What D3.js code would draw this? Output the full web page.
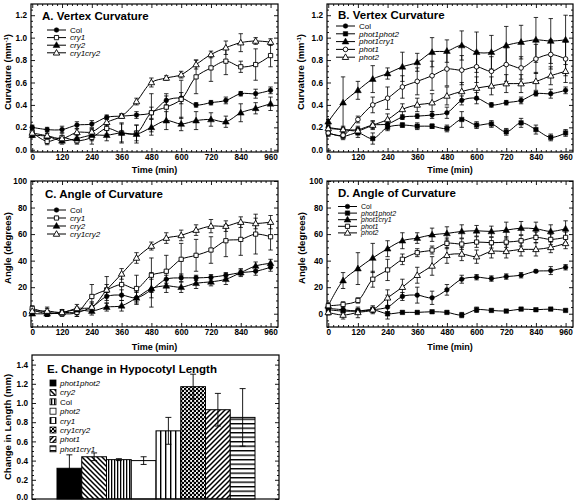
<!DOCTYPE html>
<html><head><meta charset="utf-8">
<script src="https://cdn.jsdelivr.net/npm/d3@7"></script>
<style>
body{margin:0;background:#fff}
svg{display:block}
text{font-family:"Liberation Sans",Arial,Helvetica,sans-serif;fill:#000}
</style>
</head><body>
<svg id="chart" width="576" height="504"></svg>
<script>
// ---------------- DATA ----------------
const times = [0,60,120,180,240,300,360,420,480,540,600,660,720,780,840,900,960];
const xTickLabels = [0,120,240,360,480,600,720,840,960];
const curvTicks = [0,0.2,0.4,0.6,0.8,1,1.2];
const angleTicks = [0,20,40,60,80,100];
const lengthTicks = [0,0.2,0.4,0.6,0.8,1,1.2,1.4];

// Panel A/B vertex curvature (mm^-1)
const colCurv      = [0.20,0.18,0.18,0.22,0.23,0.29,0.30,0.31,0.33,0.44,0.46,0.40,0.42,0.44,0.50,0.50,0.53];
const colCurvErr   = [0.02,0.02,0.03,0.03,0.03,0.02,0.02,0.03,0.05,0.04,0.05,0.02,0.02,0.03,0.02,0.04,0.03];
const cry1Curv     = [0.155,0.075,0.11,0.08,0.11,0.19,0.15,0.15,0.33,0.38,0.45,0.65,0.73,0.79,0.74,0.76,0.84];
const cry1CurvErr  = [0.03,0.03,0.04,0.03,0.06,0.05,0.08,0.07,0.17,0.12,0.17,0.15,0.12,0.12,0.05,0.14,0.10];
const cry2Curv     = [0.13,0.12,0.08,0.10,0.13,0.13,0.15,0.14,0.20,0.26,0.23,0.26,0.27,0.25,0.33,0.37,0.41];
const cry2CurvErr  = [0.02,0.04,0.03,0.04,0.05,0.05,0.09,0.08,0.07,0.08,0.06,0.08,0.06,0.05,0.08,0.05,0.06];
const cry1cry2Curv    = [0.15,0.125,0.10,0.155,0.16,0.245,0.30,0.43,0.60,0.64,0.67,0.76,0.85,0.91,0.955,0.97,0.96];
const cry1cry2CurvErr = [0.02,0.02,0.02,0.03,0.03,0.03,0.02,0.03,0.04,0.02,0.03,0.04,0.03,0.06,0.08,0.03,0.03];
const phot1phot2Curv    = [0.15,0.12,0.15,0.10,0.20,0.22,0.21,0.21,0.19,0.27,0.22,0.23,0.16,0.24,0.18,0.11,0.15];
const phot1phot2CurvErr = [0.03,0.03,0.04,0.05,0.03,0.02,0.03,0.02,0.03,0.07,0.03,0.03,0.03,0.04,0.04,0.03,0.03];
const phot1cry1Curv    = [0.25,0.42,0.53,0.63,0.68,0.74,0.78,0.87,0.88,0.93,0.87,0.87,0.93,0.96,0.98,0.97,0.98];
const phot1cry1CurvErr = [0.02,0.23,0.08,0.12,0.05,0.13,0.08,0.13,0.10,0.13,0.18,0.15,0.17,0.15,0.20,0.20,0.22];
const phot1Curv    = [0.15,0.13,0.27,0.40,0.46,0.56,0.61,0.66,0.72,0.71,0.74,0.70,0.76,0.73,0.81,0.85,0.81];
const phot1CurvErr = [0.02,0.02,0.03,0.07,0.10,0.10,0.12,0.13,0.15,0.13,0.14,0.13,0.15,0.10,0.13,0.13,0.15];
const phot2Curv    = [0.19,0.18,0.17,0.22,0.27,0.36,0.40,0.42,0.48,0.52,0.55,0.57,0.59,0.59,0.61,0.66,0.70];
const phot2CurvErr = [0.03,0.03,0.03,0.04,0.05,0.05,0.06,0.08,0.08,0.08,0.10,0.08,0.08,0.08,0.08,0.08,0.10];

// Panel C/D angle of curvature (degrees)
const colAngle      = [3,0,1,1,5,13,14,12,18,26,27,27,27.5,29,31,32,35];
const colAngleErr   = [2,2,2,3,3,3,4,4,13,3,3,2,2,2,2,3,3];
const cry1Angle     = [4,1,0,1,13,18,22,19,29,32,41,44,48,55,56,60,58];
const cry1AngleErr  = [2,3,2,3,9,10,8,10,13,12,12,12,10,12,12,15,10];
const cry2Angle     = [0,0,1,3,2,5,6,12,19,21,20,23,24,26,31,36,38];
const cry2AngleErr  = [1,2,2,2,3,3,4,5,7,5,4,4,3,4,3,3,3];
const cry1cry2Angle    = [2,2,1,4,5,18,30,42,51,57,59,63,66,66,69,68,69];
const cry1cry2AngleErr = [2,3,2,3,4,4,4,4,3,4,4,4,5,4,4,4,5];
const colAngleD      = [4,3,2,3,5,13,14,12,18,26,27.5,26.5,28,29,32,32.5,35];
const colAngleDErr   = [2,2,2,2,9,3,6,5,4,3,2,2,2,2,1,3,2];
const phot1phot2Angle    = [3,2,2,3,0,1,1,1.5,1,-1,3,2.5,2,3.5,3,3.5,2.5];
const phot1phot2AngleErr = [1,1,1,1,1.5,1,1,1,1,2,2,1,1,1,1,1,1];
const phot1cry1Angle    = [6,25,34,42,49,55,57,59.5,60.5,62,62.5,62,63,64.5,64,62,64];
const phot1cry1AngleErr = [2,6,12,11,6,6,4,5,5,5,4,4,6,5,5,5,6];
const phot1Angle    = [6,7,10,26,33,41,46,48,53,52.5,54,53.5,54,55,57.5,56,57.5];
const phot1AngleErr = [1,2,2,6,8,4,3,3,4,4,4,4,4,4,4,4,4];
const phot2Angle    = [1,-1,1,3,12,20,29,36,44,45,43,47,47,48.5,48.5,50,53];
const phot2AngleErr = [2,3,4,3,6,6,6,7,6,5,5,5,5,5,5,4,4];

// Panel E change in hypocotyl length (mm)
const barNames  = ['phot1phot2','cry2','Col','phot2','cry1','cry1cry2','phot1','phot1cry1'];
const barValues = [0.32,0.44,0.41,0.40,0.71,1.17,0.93,0.85];
const barErrors = [0.14,0.04,0.01,0.04,0.14,0.13,0.17,0.30];

// ---------------- DRAWING ----------------
const svg = d3.select('#chart');
const FONT = '"Liberation Sans",Arial,Helvetica,sans-serif';

// patterns for bar fills
const defs = svg.append('defs');
function pat(id, w, h, draw){
  const p = defs.append('pattern').attr('id',id).attr('patternUnits','userSpaceOnUse')
    .attr('width',w).attr('height',h);
  p.append('rect').attr('width',w).attr('height',h).attr('fill','#fff');
  draw(p);
}
pat('pSolid',4,4,p=>p.append('rect').attr('width',4).attr('height',4).attr('fill','#000'));
pat('pBack',5,5,p=>{
  p.append('path').attr('d','M-1,-1L6,6M-1,4L1,6M4,-1L6,1').attr('stroke','#000').attr('stroke-width',1.5);
});
pat('pFwd',5,5,p=>{
  p.append('path').attr('d','M-1,6L6,-1M-1,1L1,-1M4,6L6,4').attr('stroke','#000').attr('stroke-width',1.5);
});
pat('pVertDense',3,4,p=>p.append('rect').attr('x',0).attr('width',1.3).attr('height',4).attr('fill','#000'));
pat('pVertSparse',5,4,p=>p.append('rect').attr('x',0).attr('width',1.4).attr('height',4).attr('fill','#000'));
pat('pHoriz',4,4.5,p=>p.append('rect').attr('y',0).attr('width',4).attr('height',1.4).attr('fill','#000'));
pat('pWhite',4,4,p=>{});
pat('pDots',4,4,p=>{
  p.append('circle').attr('cx',1).attr('cy',1).attr('r',1.35).attr('fill','#000');
  p.append('circle').attr('cx',3).attr('cy',3).attr('r',1.35).attr('fill','#000');
});
const barFills = ['pSolid','pBack','pVertDense','pWhite','pVertSparse','pDots','pFwd','pHoriz'];

function marker(g, type, x, y){
  const filled = type.endsWith('F');
  const shape = type[0];
  let sym, size;
  if(shape==='c'){sym=d3.symbolCircle; size=17;}
  else if(shape==='s'){sym=d3.symbolSquare; size=filled?20:18;}
  else {sym=d3.symbolTriangle; size=filled?20:18;}
  g.append('path').attr('d',d3.symbol().type(sym).size(size)())
    .attr('transform',`translate(${x},${y + (shape==='t'?0.4:0)})`)
    .attr('fill',filled?'#000':'#fff').attr('stroke','#000').attr('stroke-width',filled?0.5:0.9);
}

function frameAxes(g, x, y, xt, yt, yMinor, opts){
  const [xa,xb] = x.range(), [ya,yb] = y.range();
  const xMinor = opts.noX ? [] : d3.range(0, 961, 20).filter(v=>v%120!==0);
  if(!opts.noX){
    const b = g.append('g').attr('transform',`translate(0,${ya})`)
      .call(d3.axisBottom(x).tickValues(xt).tickSize(-4).tickPadding(2.5).tickFormat(d3.format('d')));
    b.select('.domain').remove();
    b.selectAll('text').attr('font-size',8.2).attr('font-weight','bold').attr('font-family',FONT);
    const bm = g.append('g').attr('transform',`translate(0,${ya})`)
      .call(d3.axisBottom(x).tickValues(xMinor).tickSize(-2).tickFormat(''));
    bm.select('.domain').remove();
    const t = g.append('g').attr('transform',`translate(0,${yb})`)
      .call(d3.axisTop(x).tickValues(xt).tickSize(-4).tickFormat(''));
    t.select('.domain').remove();
    const tm = g.append('g').attr('transform',`translate(0,${yb})`)
      .call(d3.axisTop(x).tickValues(xMinor).tickSize(-2).tickFormat(''));
    tm.select('.domain').remove();
  }
  const l = g.append('g').attr('transform',`translate(${xa},0)`)
    .call(d3.axisLeft(y).tickValues(yt).tickSize(-4).tickPadding(4));
  l.select('.domain').remove();
  l.selectAll('text').attr('font-size',8.2).attr('font-weight','bold').attr('font-family',FONT);
  const lm = g.append('g').attr('transform',`translate(${xa},0)`)
    .call(d3.axisLeft(y).tickValues(yMinor).tickSize(-2).tickFormat(''));
  lm.select('.domain').remove();
  const r = g.append('g').attr('transform',`translate(${xb},0)`)
    .call(d3.axisRight(y).tickValues(yt).tickSize(-4).tickFormat(''));
  r.select('.domain').remove();
  const rm = g.append('g').attr('transform',`translate(${xb},0)`)
    .call(d3.axisRight(y).tickValues(yMinor).tickSize(-2).tickFormat(''));
  rm.select('.domain').remove();
  g.selectAll('.tick line').attr('stroke','#000').attr('stroke-width',0.9);
  g.append('rect').attr('x',xa).attr('y',yb).attr('width',xb-xa).attr('height',ya-yb)
    .attr('fill','none').attr('stroke','#000').attr('stroke-width',1.2);
}

function yTitle(g, cx, cy, parts){
  const t = g.append('text').attr('transform',`translate(${cx},${cy}) rotate(-90)`)
    .attr('text-anchor','middle').attr('font-size',9.5).attr('font-weight','bold');
  parts.forEach(p=>{
    const s = t.append('tspan').text(p.t);
    if(p.sup) s.attr('font-size',6).attr('dy',-3.5);
    if(p.after) s.attr('dy',3.5);
  });
}

function linePanel(o){
  const g = svg.append('g');
  const x = d3.scaleLinear().domain([-5,990]).range([o.x0,o.x1]);
  const y = d3.scaleLinear().domain(o.yDomain).range([o.y1,o.y0]);
  frameAxes(g, x, y, xTickLabels, o.yTicks, o.yMinor, {});
  o.series.forEach(s=>{
    const eg = g.append('g');
    s.values.forEach((v,i)=>{
      const e = s.errors[i], xx = x(times[i]);
      eg.append('line').attr('x1',xx).attr('x2',xx).attr('y1',y(v-e)).attr('y2',y(v+e)).attr('stroke','#000').attr('stroke-width',0.8);
      [v-e,v+e].forEach(w=>eg.append('line').attr('x1',xx-2.2).attr('x2',xx+2.2).attr('y1',y(w)).attr('y2',y(w)).attr('stroke','#000').attr('stroke-width',0.8));
    });
  });
  o.series.forEach(s=>{
    g.append('path').datum(s.values)
      .attr('d',d3.line().x((d,i)=>x(times[i])).y(d=>y(d)).curve(d3.curveCatmullRom.alpha(0.5)))
      .attr('fill','none').attr('stroke','#000').attr('stroke-width',1);
  });
  o.series.forEach(s=>{
    s.values.forEach((v,i)=>marker(g, s.marker, x(times[i]), y(v)));
  });
  g.append('text').attr('x',o.titleX).attr('y',o.titleY).attr('font-size',11.5).attr('font-weight','bold').text(o.title);
  const fs = o.legFont || 8;
  o.series.forEach((s,i)=>{
    const ly = o.legY + i*o.legStep;
    g.append('line').attr('x1',o.legX).attr('x2',o.legX+19).attr('y1',ly).attr('y2',ly).attr('stroke','#000').attr('stroke-width',1);
    marker(g, s.marker, o.legX+9.5, ly);
    g.append('text').attr('x',o.legX+23).attr('y',ly+fs*0.35).attr('font-size',fs)
      .attr('font-style',s.name==='Col'?'normal':'italic').text(s.name);
  });
  g.append('text').attr('x',(o.x0+o.x1)/2).attr('y',o.timeY).attr('text-anchor','middle')
    .attr('font-size',9).attr('font-weight','bold').text('Time  (min)');
  yTitle(g, o.yTitleX, o.yTitleY, o.yTitle);
}

const curvMinor = d3.range(0.05,1.3,0.05).map(v=>+v.toFixed(2)).filter(v=>Math.round(v*100)%20!==0);
const angleMinor = d3.range(-10,100,5).filter(v=>v%20!==0);
const curvTitle = [{t:'Curvature  (mm'},{t:'-1',sup:true},{t:')',after:true}];
const angleTitle = [{t:'Angle   (degrees)'}];

linePanel({x0:31,x1:278,y0:4,y1:152,yDomain:[-0.02,1.3],yTicks:curvTicks,yMinor:curvMinor,
  title:'A. Vertex Curvature',titleX:42,titleY:19.5,legX:47,legY:30,legStep:7.6,
  timeY:173,yTitleX:11,yTitleY:72,yTitle:curvTitle,
  series:[
    {name:'Col',marker:'cF',values:colCurv,errors:colCurvErr},
    {name:'cry1',marker:'sO',values:cry1Curv,errors:cry1CurvErr},
    {name:'cry2',marker:'tF',values:cry2Curv,errors:cry2CurvErr},
    {name:'cry1cry2',marker:'tO',values:cry1cry2Curv,errors:cry1cry2CurvErr}
  ]});
linePanel({x0:327,x1:573,y0:4,y1:152,yDomain:[-0.02,1.3],yTicks:curvTicks,yMinor:curvMinor,
  title:'B. Vertex Curvature',titleX:338,titleY:18.5,legX:336,legY:26,legStep:7.8,
  timeY:173,yTitleX:304,yTitleY:72,yTitle:curvTitle,
  series:[
    {name:'Col',marker:'cF',values:colCurv,errors:colCurvErr},
    {name:'phot1phot2',marker:'sF',values:phot1phot2Curv,errors:phot1phot2CurvErr},
    {name:'phot1cry1',marker:'tF',values:phot1cry1Curv,errors:phot1cry1CurvErr},
    {name:'phot1',marker:'cO',values:phot1Curv,errors:phot1CurvErr},
    {name:'phot2',marker:'tO',values:phot2Curv,errors:phot2CurvErr}
  ]});
linePanel({x0:31,x1:278,y0:181,y1:327,yDomain:[-10,100],yTicks:angleTicks,yMinor:angleMinor,
  title:'C. Angle of Curvature',titleX:45,titleY:198,legX:47,legY:210,legStep:8,
  timeY:350,yTitleX:11,yTitleY:248,yTitle:angleTitle,
  series:[
    {name:'Col',marker:'cF',values:colAngle,errors:colAngleErr},
    {name:'cry1',marker:'sO',values:cry1Angle,errors:cry1AngleErr},
    {name:'cry2',marker:'tF',values:cry2Angle,errors:cry2AngleErr},
    {name:'cry1cry2',marker:'tO',values:cry1cry2Angle,errors:cry1cry2AngleErr}
  ]});
linePanel({x0:327,x1:573,y0:181,y1:327,yDomain:[-10,100],yTicks:angleTicks,yMinor:angleMinor,
  title:'D. Angle of Curvature',titleX:338,titleY:197,legX:338,legY:206.5,legStep:6.6,legFont:7,
  timeY:350,yTitleX:305,yTitleY:248,yTitle:angleTitle,
  series:[
    {name:'Col',marker:'cF',values:colAngleD,errors:colAngleDErr},
    {name:'phot1phot2',marker:'sF',values:phot1phot2Angle,errors:phot1phot2AngleErr},
    {name:'phot1cry1',marker:'tF',values:phot1cry1Angle,errors:phot1cry1AngleErr},
    {name:'phot1',marker:'sO',values:phot1Angle,errors:phot1AngleErr},
    {name:'phot2',marker:'tO',values:phot2Angle,errors:phot2AngleErr}
  ]});

// Panel E
(function(){
  const g = svg.append('g');
  const x0=32,x1=279,y0=355,y1=499;
  const x = d3.scaleLinear().domain([0,1]).range([x0,x1]);
  const y = d3.scaleLinear().domain([0,1.5]).range([y1,y0]);
  const xb = d3.scaleBand().domain(barNames).range([57,255]).padding(0);
  const lenMinor = d3.range(0.05,1.5,0.05).map(v=>+v.toFixed(2)).filter(v=>Math.round(v*100)%20!==0);
  barNames.forEach((n,i)=>{
    g.append('rect').attr('x',xb(n)).attr('y',y(barValues[i])).attr('width',xb.bandwidth())
      .attr('height',y(0)-y(barValues[i])).attr('fill',`url(#${barFills[i]})`).attr('stroke','#000').attr('stroke-width',1);
  });
  barNames.forEach((n,i)=>{
    const cx = xb(n)+xb.bandwidth()/2, v=barValues[i], e=barErrors[i];
    g.append('line').attr('x1',cx).attr('x2',cx).attr('y1',y(Math.max(0,v-e))).attr('y2',y(v+e)).attr('stroke','#000').attr('stroke-width',0.9);
    [v-e,v+e].forEach(w=>g.append('line').attr('x1',cx-3).attr('x2',cx+3).attr('y1',y(w)).attr('y2',y(w)).attr('stroke','#000').attr('stroke-width',0.9));
  });
  frameAxes(g, x, y, [], lengthTicks, lenMinor, {noX:true});
  g.select('.tick text').attr('dy','0.1em');
  g.append('text').attr('x',47).attr('y',373).attr('font-size',11.5).attr('font-weight','bold').text('E. Change in Hypocotyl Length');
  barNames.forEach((n,i)=>{
    const ly = 383 + i*9.4;
    g.append('rect').attr('x',50).attr('y',ly-3).attr('width',6).attr('height',6)
      .attr('fill',`url(#${barFills[i]})`).attr('stroke','#000').attr('stroke-width',0.8);
    g.append('text').attr('x',60).attr('y',ly+3).attr('font-size',8)
      .attr('font-style',n==='Col'?'normal':'italic').text(n);
  });
  yTitle(g, 11, 427, [{t:'Change  in  Length  (mm)'}]);
})();
</script>
</body></html>
